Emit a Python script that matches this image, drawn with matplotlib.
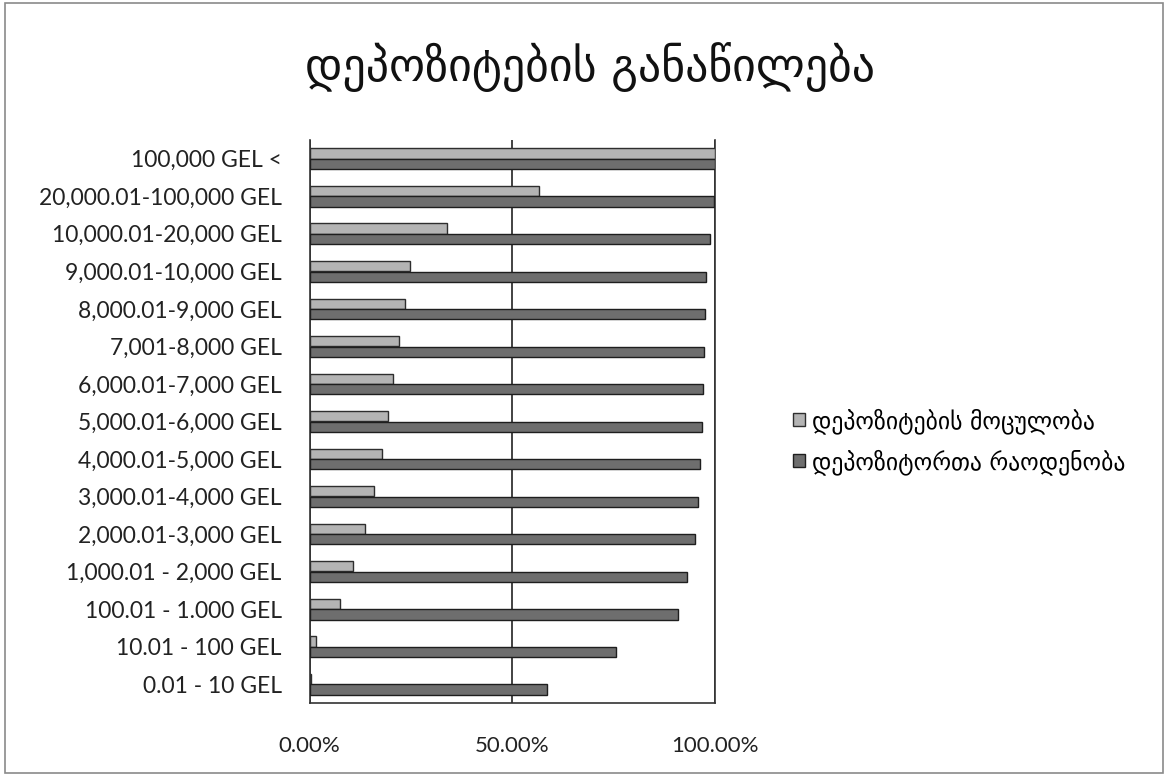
import matplotlib
matplotlib.use("Agg")
import matplotlib.pyplot as plt
from matplotlib.patches import Rectangle
import numpy as np

# Kategoriebi (qvemodan zemot)
kategoriebi = [
    "0.01 - 10 GEL",
    "10.01 - 100 GEL",
    "100.01 - 1.000 GEL",
    "1,000.01 - 2,000 GEL",
    "2,000.01-3,000 GEL",
    "3,000.01-4,000 GEL",
    "4,000.01-5,000 GEL",
    "5,000.01-6,000 GEL",
    "6,000.01-7,000 GEL",
    "7,001-8,000 GEL",
    "8,000.01-9,000 GEL",
    "9,000.01-10,000 GEL",
    "10,000.01-20,000 GEL",
    "20,000.01-100,000 GEL",
    "100,000 GEL <",
]

# kumulatiuri procentebi
motsuloba = [0.3, 1.5, 7.4, 10.8, 13.7, 15.9, 17.8, 19.3, 20.6, 22.2, 23.5, 24.8, 34.0, 56.7, 100.0]
raodenoba = [58.6, 75.5, 90.9, 93.2, 95.0, 95.8, 96.3, 96.8, 97.1, 97.4, 97.6, 97.9, 98.8, 99.7, 100.0]

seriebi = ["დეპოზიტების მოცულობა", "დეპოზიტორთა რაოდენობა"]
satauri = "დეპოზიტების განაწილება"
x_tikebi = [0, 50, 100]
x_tik_teqsti = ["0.00%", "50.00%", "100.00%"]

plt.rcParams["font.family"] = ["Lato", "DejaVu Sans"]

fig = plt.figure(figsize=(11.68, 7.82), dpi=100)
fig.patch.set_facecolor("white")
fig.patches.append(Rectangle((0.004, 0.012), 0.992, 0.984, transform=fig.transFigure,
                             fill=False, edgecolor="#8a8a8a", linewidth=1.2))

ax = fig.add_axes([0.265, 0.101, 0.347, 0.72])

y = np.arange(len(kategoriebi))
h = 0.27
ax.barh(y + 0.14, motsuloba, height=h, color="#b4b4b4", edgecolor="#2e2e2e",
        linewidth=1.0, label=seriebi[0], zorder=3)
ax.barh(y - 0.14, raodenoba, height=h, color="#6e6e6e", edgecolor="#1e1e1e",
        linewidth=1.0, label=seriebi[1], zorder=3)

ax.set_xlim(0, 100)
ax.set_ylim(-0.5, len(kategoriebi) - 0.5)
ax.set_yticks(y)
ax.set_yticklabels(kategoriebi, fontsize=16.5, color="#222222")
ax.set_xticks(x_tikebi)
ax.set_xticklabels(x_tik_teqsti, fontsize=16, color="#222222")
ax.tick_params(axis="both", length=0)
ax.tick_params(axis="y", pad=20)
ax.tick_params(axis="x", pad=24)

ax.grid(axis="x", color="#222222", linewidth=1.2, zorder=1)
ax.spines["top"].set_visible(False)
for s in ["left", "bottom", "right"]:
    ax.spines[s].set_color("#333333")
    ax.spines[s].set_linewidth(1.2)

fig.text(0.505, 0.914, satauri, ha="center", va="center", fontsize=33,
         family=["DejaVu Sans"], color="#111111")

ax.legend(loc="center left", bbox_to_anchor=(1.14, 0.465), frameon=False,
          prop={"family": ["DejaVu Sans"], "size": 17}, handlelength=0.5,
          handleheight=0.5, handletextpad=0.3, labelspacing=0.65)

fig.savefig("out.png", dpi=100)
